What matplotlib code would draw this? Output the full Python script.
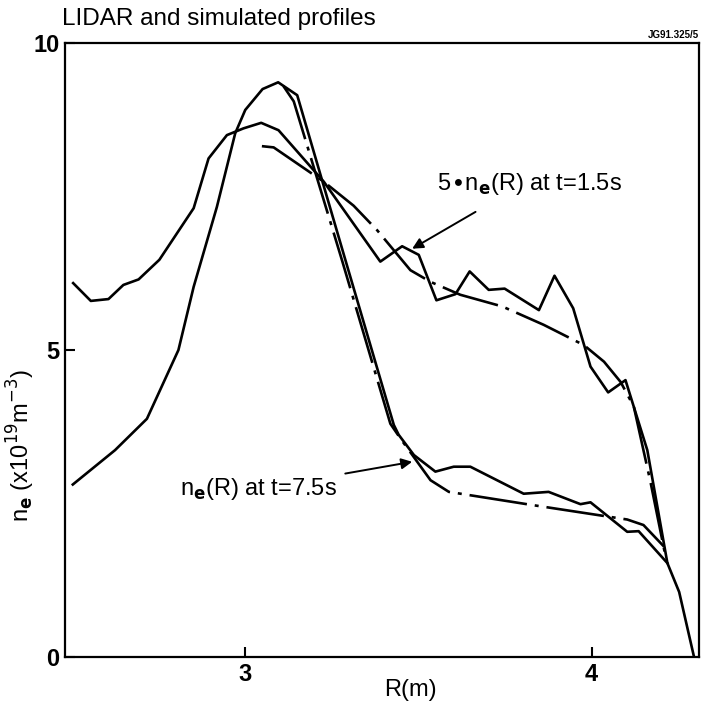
import matplotlib.pyplot as plt

plt.rcParams['font.family'] = ['Liberation Sans', 'DejaVu Sans']

# LIDAR profile at t=1.5s (scaled x5)
r_lidar_early = [2.503, 2.554, 2.605, 2.648, 2.692, 2.752, 2.851, 2.894, 2.947, 2.995,
                 3.046, 3.096, 3.227, 3.390, 3.453, 3.501, 3.552, 3.607, 3.648, 3.703,
                 3.749, 3.848, 3.893, 3.947, 3.997, 4.048, 4.098, 4.161, 4.219, 4.253, 4.296]
n_lidar_early = [6.09, 5.80, 5.83, 6.06, 6.15, 6.47, 7.31, 8.12, 8.50, 8.61,
                 8.70, 8.58, 7.74, 6.44, 6.69, 6.55, 5.81, 5.91, 6.28, 5.98,
                 6.00, 5.65, 6.21, 5.68, 4.73, 4.31, 4.51, 3.37, 1.53, 1.06, 0.0]

# simulated profile at t=1.5s
r_sim_early = [3.048, 3.082, 3.227, 3.313, 3.381, 3.477, 3.535, 3.621, 3.742, 3.862,
               3.978, 4.036, 4.084, 4.122, 4.171, 4.214]
n_sim_early = [8.32, 8.30, 7.74, 7.35, 6.95, 6.30, 6.11, 5.90, 5.71, 5.41,
               5.08, 4.81, 4.48, 4.08, 2.83, 1.63]

# LIDAR profile at t=7.5s
r_lidar_late = [2.502, 2.624, 2.716, 2.807, 2.851, 2.918, 2.971, 3.000, 3.050, 3.095,
                3.150, 3.290, 3.429, 3.443, 3.487, 3.549, 3.602, 3.650, 3.804, 3.876,
                3.968, 3.997, 4.103, 4.136, 4.219]
n_lidar_late = [2.81, 3.37, 3.88, 5.00, 6.03, 7.33, 8.53, 8.91, 9.25, 9.36,
                9.15, 6.45, 3.78, 3.62, 3.29, 3.02, 3.10, 3.10, 2.66, 2.69,
                2.49, 2.52, 2.04, 2.05, 1.53]

# simulated profile at t=7.5s
r_sim_late = [3.110, 3.140, 3.280, 3.419, 3.448, 3.535, 3.588, 3.824, 4.103, 4.150, 4.209]
n_sim_late = [9.30, 9.05, 6.45, 3.80, 3.56, 2.88, 2.69, 2.48, 2.24, 2.15, 1.80]

fig = plt.figure(figsize=(7.01, 7.05), dpi=100)
ax = fig.add_axes([0.093, 0.068, 0.904, 0.871])

lw = 1.9
dashdot = (0, (22, 3, 1.5, 3))
ax.plot(r_lidar_early, n_lidar_early, color='black', lw=lw)
ax.plot(r_sim_early, n_sim_early, color='black', lw=lw, linestyle=dashdot)
ax.plot(r_lidar_late, n_lidar_late, color='black', lw=lw)
ax.plot(r_sim_late, n_sim_late, color='black', lw=lw, linestyle=dashdot)

ax.set_xlim(2.48, 4.31)
ax.set_ylim(0, 10)
ax.set_xticks([3, 4])
ax.set_yticks([0, 5, 10])
ax.tick_params(direction='in', length=7, width=1.5, labelsize=17, pad=4)
for lab in ax.get_xticklabels() + ax.get_yticklabels():
    lab.set_fontweight('bold')
for s in ax.spines.values():
    s.set_linewidth(1.6)

ax.set_xlabel('R(m)', fontsize=17)
ax.xaxis.set_label_coords(0.545, -0.035)
ax.set_ylabel(r'n$_\mathbf{e}$ (x10$^{19}$m$^{-3}$)', fontsize=17)
ax.yaxis.set_label_coords(-0.045, 0.345)

fig.text(0.088, 0.973, 'LIDAR and simulated profiles', fontsize=17.5, va='center', ha='left')
fig.text(0.997, 0.943, 'JG91.325/5', fontsize=7, fontweight='bold', ha='right', va='bottom')

arrow = dict(arrowstyle='-|>', color='black', lw=1.4, mutation_scale=16, shrinkA=0, shrinkB=0)
ax.text(3.555, 7.70, r'5$\bullet$n$_\mathbf{e}$(R) at t=1.5s', fontsize=17, va='center', ha='left')
ax.annotate('', xy=(3.482, 6.65), xytext=(3.665, 7.25), arrowprops=arrow)
ax.annotate(r'n$_\mathbf{e}$(R) at t=7.5s', xy=(3.482, 3.18), xytext=(3.265, 2.74),
            fontsize=17, va='center', ha='right',
            arrowprops=dict(arrow, shrinkA=4))

fig.savefig('out.png', dpi=100)
